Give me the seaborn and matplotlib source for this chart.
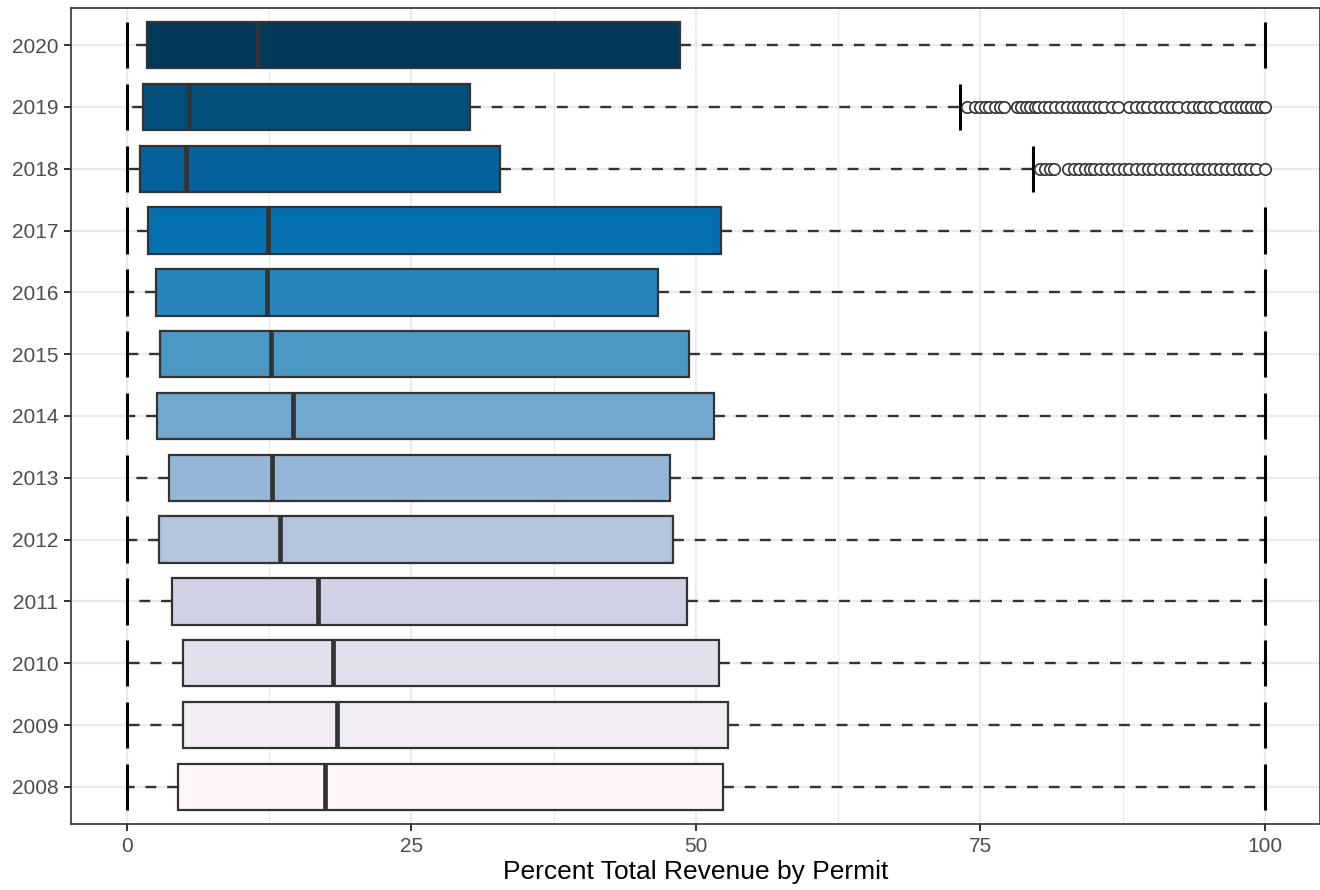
import numpy as np
import pandas as pd
import matplotlib
matplotlib.use("Agg")
import matplotlib.pyplot as plt
import seaborn as sns
from matplotlib.ticker import MultipleLocator

# Five-number summaries per year (percent of total revenue by permit)
years = ["2020", "2019", "2018", "2017", "2016", "2015", "2014",
         "2013", "2012", "2011", "2010", "2009", "2008"]
whisker_low = [0, 0, 0, 0, 0, 0, 0, 0, 0, 0, 0, 0, 0]
q1 = [1.8, 1.4, 1.2, 1.9, 2.6, 2.9, 2.7, 3.7, 2.8, 4.0, 4.9, 4.9, 4.5]
median = [11.4, 5.5, 5.2, 12.4, 12.3, 12.7, 14.6, 12.8, 13.5, 16.8, 18.1, 18.5, 17.4]
q3 = [48.6, 30.2, 32.8, 52.2, 46.7, 49.4, 51.6, 47.7, 48.0, 49.2, 52.0, 52.8, 52.4]
whisker_high = [100, 73.2, 79.6, 100, 100, 100, 100, 100, 100, 100, 100, 100, 100]

# Outlying permits beyond the upper whisker
outliers_2019 = [73.8, 74.5, 75.0, 75.4, 75.8, 76.3, 76.7, 77.1, 78.2, 78.6,
                 79.0, 79.4, 79.8, 80.1, 80.6, 81.0, 81.6, 82.1, 82.6, 83.1,
                 83.6, 84.0, 84.5, 84.9, 85.4, 85.9, 86.6, 87.1, 88.1, 88.7,
                 89.2, 89.6, 90.3, 90.8, 91.3, 91.8, 92.4, 93.2, 93.7, 94.2,
                 94.6, 95.2, 95.6, 96.5, 96.9, 97.5, 97.9, 98.3, 98.8, 99.2,
                 99.7, 100.0]
outliers_2018 = [80.2, 80.7, 81.1, 81.5, 82.7, 83.2, 83.7, 84.2, 84.6, 85.0,
                 85.5, 86.0, 86.6, 87.1, 87.6, 88.1, 88.7, 89.2, 89.7, 90.2,
                 90.8, 91.3, 91.8, 92.4, 92.9, 93.4, 94.0, 94.5, 95.0, 95.5,
                 96.1, 96.6, 97.1, 97.7, 98.2, 98.7, 99.2, 100.0]

box_colors = ["#023858", "#034F7B", "#046199", "#0570B0", "#2685BB", "#4B98C5",
              "#74A9CF", "#95B6D7", "#B4C4DF", "#D0D1E6", "#E3E0EE", "#F2ECF5",
              "#FFF7FB"]

x_ticks = [0, 25, 50, 75, 100]
x_label = "Percent Total Revenue by Permit"

# Long-form frame whose quartiles reproduce each summary exactly
rows = []
for i, yr in enumerate(years):
    for v in (whisker_low[i], q1[i], median[i], q3[i], whisker_high[i]):
        rows.append({"year": yr, "pct": v})
box_df = pd.DataFrame(rows)

out_df = pd.DataFrame(
    {"year": ["2019"] * len(outliers_2019) + ["2018"] * len(outliers_2018),
     "pct": outliers_2019 + outliers_2018}
)

sns.set_style("white")
plt.rcParams["font.family"] = ["Liberation Sans", "DejaVu Sans"]

fig = plt.figure(figsize=(13.2, 8.9), dpi=100)
ax = fig.add_axes([71 / 1320, 1 - 824 / 890, (1319.5 - 71) / 1320, (824 - 8) / 890])

box_width = 0.75
sns.boxplot(
    data=box_df, x="pct", y="year", order=years,
    hue="year", hue_order=years, palette=box_colors, legend=False,
    saturation=1, width=box_width, whis=np.inf, showfliers=False,
    linecolor="#333333", linewidth=1.6,
    medianprops=dict(linewidth=3.4, color="#333333"),
    whiskerprops=dict(linestyle=(0, (4.6, 4.6)), linewidth=1.7, color="#333333"),
    capprops=dict(visible=False),
    ax=ax, zorder=2,
)

# Error-bar style caps at the whisker ends
pos = np.arange(len(years))
half = box_width / 2
ax.vlines(whisker_low, pos - half, pos + half, color="black", linewidth=2.2, zorder=3)
ax.vlines(whisker_high, pos - half, pos + half, color="black", linewidth=2.2, zorder=3)

sns.stripplot(
    data=out_df, x="pct", y="year", order=years, jitter=False,
    size=8.2, color="white", edgecolor="#333333", linewidth=1.2,
    ax=ax, zorder=4,
)
ax.collections[-1].set_facecolor("none")

ax.set_xlim(-4.9, 104.8)
ax.set_ylim(len(years) - 0.4, -0.6)
ax.set_xticks(x_ticks)
ax.set_xticklabels([str(t) for t in x_ticks])
ax.xaxis.set_minor_locator(MultipleLocator(12.5))

ax.set_axisbelow(True)
ax.grid(which="major", color="#EBEBEB", linewidth=1.6)
ax.grid(which="minor", axis="x", color="#EBEBEB", linewidth=0.8)

for sp in ax.spines.values():
    sp.set_visible(True)
    sp.set_color("#333333")
    sp.set_linewidth(1.2)

ax.tick_params(which="major", length=5, width=1.4, color="#333333",
               labelcolor="#4D4D4D", labelsize=15, pad=4,
               bottom=True, left=True)
ax.tick_params(which="minor", length=0)

ax.set_ylabel("")
ax.set_xlabel(x_label, fontsize=19, color="black", labelpad=3)

fig.savefig("out.png", dpi=100)
